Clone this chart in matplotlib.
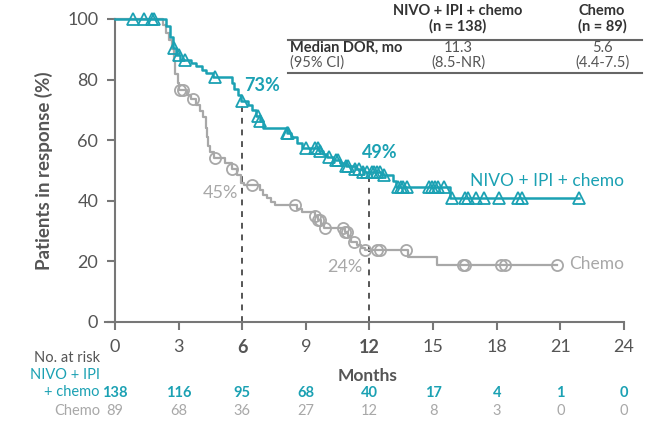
import numpy as np
import matplotlib
matplotlib.use("Agg")
import matplotlib.pyplot as plt
from matplotlib.lines import Line2D
from matplotlib.transforms import blended_transform_factory

plt.rcParams['font.family'] = ['Lato', 'DejaVu Sans']

TEAL = '#1ba1b3'
GRAY = '#a8a8a8'
DARK = '#555555'

# NIVO + IPI + chemo: KM step times / values (%)
nivo_t = [0, 2.4, 2.6, 2.75, 2.9, 3.05, 3.6, 3.8, 4.1, 4.3, 4.6, 5.5, 5.6, 5.8, 5.95,
          6.25, 6.45, 6.65, 6.85, 7.0, 8.1, 8.3, 8.6, 8.8, 9.6, 9.8, 10.0, 10.3, 10.6,
          10.9, 11.3, 11.7, 12.6, 13.1, 13.25, 15.8]
nivo_s = [100, 97.8, 94, 90.5, 88, 86.5, 85.5, 84.5, 83.3, 82.2, 81, 79, 77, 75, 73,
          71.5, 70, 68, 66.5, 64, 62.5, 61, 59, 57.5, 56.5, 55.5, 54.5, 53.5, 52.5,
          51.5, 50.5, 49.5, 48.5, 46.5, 44.5, 40.8]
nivo_cens = [0.85, 1.35, 1.75, 1.85, 2.8, 3.0, 3.3, 4.7, 6.0, 6.75, 6.85, 8.1, 8.15,
             9.0, 9.45, 9.55, 9.65, 10.1, 10.4, 10.5, 10.9, 11.0, 11.3, 11.5, 11.7, 11.9,
             12.1, 12.2, 12.35, 12.5, 12.7, 13.35, 13.5, 13.6, 13.75, 14.8, 14.95, 15.1,
             15.25, 15.5, 15.9, 16.5, 16.65, 17.0, 17.4, 18.1, 19.0, 19.2, 21.9]

# Chemo
chemo_t = [0, 2.25, 2.4, 2.55, 2.7, 2.8, 2.85, 2.95, 3.0, 3.4, 3.6, 3.8, 4.0, 4.15,
           4.3, 4.35, 4.4, 4.5, 4.65, 5.2, 5.5, 5.75, 5.95, 6.1, 6.85, 7.0, 7.15, 7.35,
           7.55, 8.6, 8.8, 9.45, 9.55, 9.7, 9.85, 10.85, 11.0, 11.15, 11.4, 11.6, 11.8,
           13.8, 15.2]
chemo_s = [100, 98, 95.5, 93, 90, 86, 82, 79, 76.5, 75, 73.5, 71.5, 69.5, 67.5,
           64, 61, 58, 56, 54, 52.5, 50.5, 48.5, 46, 45.2, 43.5, 42, 41, 39.5,
           38.6, 37.3, 36.2, 35, 33.5, 32, 31, 29.8, 28.5, 26.5, 25.5, 24.5, 23.8,
           21.5, 18.8]
chemo_cens = [3.05, 3.2, 3.7, 4.7, 5.5, 6.45, 8.5, 9.45, 9.55, 9.65, 9.9, 10.75,
              10.85, 10.95, 11.25, 11.8, 12.35, 12.5, 13.7, 16.4, 16.5, 18.2, 18.4, 20.85]

risk_times = [0, 3, 6, 9, 12, 15, 18, 21, 24]
nivo_risk = [138, 116, 95, 68, 40, 17, 4, 1, 0]
chemo_risk = [89, 68, 36, 27, 12, 8, 3, 0, 0]


def step_val(t, ts, ss):
    i = np.searchsorted(ts, t, side='right') - 1
    return ss[i]


W, H = 656, 430
fig = plt.figure(figsize=(W / 100, H / 100), dpi=100)
ax = fig.add_axes([105 / W, 1 - 322 / H, 519 / W, 303 / H])

x_end = nivo_cens[-1]
ax.step(nivo_t + [x_end], nivo_s + [nivo_s[-1]], where='post', color=TEAL, lw=1.8,
        clip_on=False, zorder=3)
ax.plot(nivo_cens, [step_val(t, nivo_t, nivo_s) for t in nivo_cens], '^', ms=8,
        mfc='none', mec=TEAL, mew=1.3, clip_on=False, zorder=4)

c_end = chemo_cens[-1]
ax.step(chemo_t + [c_end], chemo_s + [chemo_s[-1]], where='post', color=GRAY, lw=1.6,
        clip_on=False, zorder=2)
ax.plot(chemo_cens, [step_val(t, chemo_t, chemo_s) for t in chemo_cens], 'o', ms=8,
        mfc='none', mec=GRAY, mew=1.3, clip_on=False, zorder=2)

# landmark lines
ax.plot([6, 6], [0, 73], ls=(0, (3, 3)), color=DARK, lw=1.4, zorder=1)
ax.plot([12, 12], [0, 49.5], ls=(0, (3, 3)), color=DARK, lw=1.4, zorder=1)

ax.text(6.1, 78, '73%', color=TEAL, fontsize=13, fontweight='bold', va='center', ha='left')
ax.text(5.8, 42.5, '45%', color=GRAY, fontsize=13, va='center', ha='right')
ax.text(11.65, 56, '49%', color=TEAL, fontsize=13, fontweight='bold', va='center', ha='left')
ax.text(11.65, 18.2, '24%', color=GRAY, fontsize=13, va='center', ha='right')
ax.text(16.75, 46.5, 'NIVO + IPI + chemo', color=TEAL, fontsize=12.5, va='center')
ax.text(21.4, 19, 'Chemo', color=GRAY, fontsize=12.5, va='center')

ax.set_xlim(-0.47, 24)
ax.set_ylim(0, 100)
ax.spines['left'].set_position(('data', 0))
ax.spines['left'].set_bounds(0, 100)
for s in ['top', 'right']:
    ax.spines[s].set_visible(False)
for s in ['left', 'bottom']:
    ax.spines[s].set_color('#777777')
    ax.spines[s].set_linewidth(1.5)
ax.set_xticks(risk_times)
ax.set_yticks([0, 20, 40, 60, 80, 100])
ax.tick_params(colors='#777777', width=1.5, length=6, labelsize=13, labelcolor=DARK, pad=6)
for lab in ax.get_xticklabels():
    if lab.get_text() in ('6', '12'):
        lab.set_fontweight('bold')
ax.set_ylabel('Patients in response (%)', fontsize=13.5, color=DARK, fontweight='bold',
              labelpad=8)
ax.yaxis.set_label_coords(-0.1, 0.5)

fig.text(368 / W, 1 - 376 / H, 'Months', fontsize=12.5, color=DARK, fontweight='bold',
         ha='center', va='center')

# risk table
tr = blended_transform_factory(ax.transData, fig.transFigure)
fig.text(100 / W, 1 - 358 / H, 'No. at risk', fontsize=10.5, color=DARK, ha='right', va='center')
fig.text(100 / W, 1 - 375 / H, 'NIVO + IPI', fontsize=10.5, color=TEAL, ha='right', va='center')
fig.text(100 / W, 1 - 392 / H, '+ chemo', fontsize=10.5, color=TEAL, ha='right', va='center')
fig.text(100 / W, 1 - 411 / H, 'Chemo', fontsize=10.5, color=GRAY, ha='right', va='center')
for t, n1, n2 in zip(risk_times, nivo_risk, chemo_risk):
    ax.text(t, 1 - 393 / H, str(n1), transform=tr, fontsize=10.5, color=TEAL,
            fontweight='bold', ha='center', va='center')
    ax.text(t, 1 - 411 / H, str(n2), transform=tr, fontsize=10.5, color=GRAY,
            ha='center', va='center')

# median DOR table
def ft(x, y, s, **kw):
    fig.text(x / W, 1 - y / H, s, fontsize=10.5, va='center', **kw)

ft(458, 11, 'NIVO + IPI + chemo', ha='center', color='#333333', fontweight='bold')
ft(458, 26, '(n = 138)', ha='center', color='#333333', fontweight='bold')
ft(602, 11, 'Chemo', ha='center', color='#333333', fontweight='bold')
ft(602, 26, '(n = 89)', ha='center', color='#333333', fontweight='bold')
ft(290, 48, 'Median DOR, mo', ha='left', color='#333333', fontweight='bold')
ft(290, 63, '(95% CI)', ha='left', color=DARK)
ft(458, 48, '11.3', ha='center', color=DARK)
ft(458, 63, '(8.5-NR)', ha='center', color=DARK)
ft(602, 48, '5.6', ha='center', color=DARK)
ft(602, 63, '(4.4-7.5)', ha='center', color=DARK)
for y in (40, 73):
    fig.add_artist(Line2D([288 / W, 642 / W], [1 - y / H, 1 - y / H], color='#666666', lw=1.5))

fig.savefig('out.png', dpi=100)
